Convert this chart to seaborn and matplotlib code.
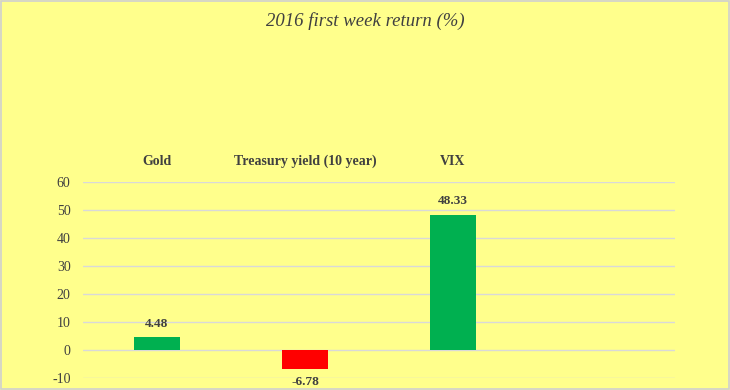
import matplotlib.pyplot as plt
import seaborn as sns
import pandas as pd

# Data
categories = ["Gold", "Treasury yield (10 year)", "VIX"]
returns = [4.48, -6.78, 48.33]
bar_colors = ["#00B050", "#FF0000", "#00B050"]
y_ticks = [-10, 0, 10, 20, 30, 40, 50, 60]

BG = "#FFFF8C"
TXT = "#404040"
FONT = ["Liberation Serif", "DejaVu Serif"]

sns.set_theme(style="white")
plt.rcParams["font.family"] = FONT

df = pd.DataFrame({"asset": categories, "ret": returns})

fig = plt.figure(figsize=(7.3, 3.9), dpi=100, facecolor=BG)
ax = fig.add_axes([0.1137, 0.0308, 0.811, 0.5026], facecolor=BG)

sns.barplot(data=df, x="asset", y="ret", hue="asset", palette=bar_colors,
            width=0.31, legend=False, ax=ax, saturation=1, linewidth=0, zorder=3)

ax.set_xlim(-0.5, 3.5)
ax.set_ylim(-10, 60)
ax.set_yticks(y_ticks)
ax.set_yticklabels([str(t) for t in y_ticks], color=TXT, fontsize=10)
ax.tick_params(axis="y", length=0, pad=9)
ax.yaxis.grid(True, color="#D9D9D9", linewidth=1)
ax.set_axisbelow(True)

# category labels sit above the plot area
ax.xaxis.tick_top()
ax.set_xticks(range(len(categories)))
ax.set_xticklabels(categories, color=TXT, fontsize=10, fontweight="bold")
ax.tick_params(axis="x", length=0, pad=10)
ax.set_xlabel("")
ax.set_ylabel("")
for s in ax.spines.values():
    s.set_visible(False)

for i, v in enumerate(returns):
    off = 2.8 if v >= 0 else -2.6
    ax.text(i, v + off, f"{v:.2f}", ha="center", va="bottom" if v >= 0 else "top",
            fontsize=9.5, fontweight="bold", color=TXT)

fig.text(0.5, 0.945, "2016 first week return (%)", ha="center", va="center",
         fontsize=13.5, style="italic", color=TXT)

# light frame round the whole chart
fig.patches.append(plt.Rectangle((0.001, 0.002), 0.997, 0.995, transform=fig.transFigure,
                                 fill=False, edgecolor="#D0D0D0", linewidth=1.2))

fig.savefig("out.png", dpi=100, facecolor=BG)
